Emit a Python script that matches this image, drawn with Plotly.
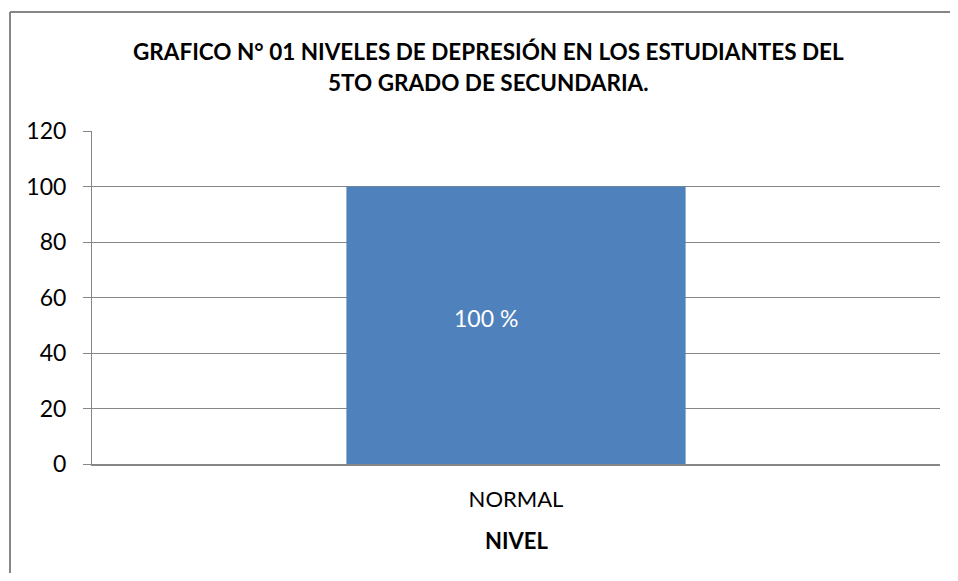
import plotly.graph_objects as go

categories = ["NORMAL"]
values = [100]
bar_labels = ["100 %"]
y_ticks = [0, 20, 40, 60, 80, 100, 120]
title_lines = ["GRAFICO N° 01 NIVELES DE DEPRESIÓN EN LOS ESTUDIANTES DEL",
               "5TO GRADO DE SECUNDARIA."]
x_title = "NIVEL"

W, H = 958, 581
OFF = 8  # default page body margin
L, R, T, B = 92, 940, 131, 464
GRAY = "#868686"
FONT = "Lato"


def px_x(x):
    return (x - L) / (R - L)


def px_y(y):
    return (B - y) / (B - T)


fig = go.Figure()
fig.add_trace(go.Bar(
    x=categories, y=values, width=0.4,
    marker=dict(color="#4F81BD", line=dict(width=0)),
    hoverinfo="skip",
))

annotations = []
for cat, v, lab in zip(categories, values, bar_labels):
    annotations.append(dict(
        x=cat, y=v / 2, xref="x", yref="y", text=lab, showarrow=False,
        xshift=-30, yshift=7, font=dict(family=FONT, size=23, color="white"),
    ))

for i, line in enumerate(title_lines):
    annotations.append(dict(
        x=px_x(488), y=px_y(51 + 32 * i), xref="paper", yref="paper",
        text="<b>%s</b>" % line, showarrow=False, xanchor="center", yanchor="middle",
        font=dict(family=FONT, size=22.5, color="black"),
    ))

annotations.append(dict(
    x=px_x(516), y=px_y(540), xref="paper", yref="paper",
    text="<b>%s</b>" % x_title, showarrow=False, xanchor="center", yanchor="middle",
    font=dict(family=FONT, size=22, color="black"),
))

border = dict(color=GRAY, width=2)
fig.update_layout(
    width=W - OFF, height=H - 2 * OFF,
    margin=dict(l=L - OFF, r=W - R, t=T - OFF, b=H - B - OFF, pad=0),
    paper_bgcolor="white", plot_bgcolor="white",
    showlegend=False,
    annotations=annotations,
    shapes=[
        dict(type="line", xref="paper", yref="paper",
             x0=px_x(10), x1=px_x(W), y0=px_y(12), y1=px_y(12), line=border, layer="below"),
        dict(type="line", xref="paper", yref="paper",
             x0=px_x(10), x1=px_x(10), y0=px_y(12), y1=px_y(H), line=border, layer="below"),
    ],
)

fig.update_yaxes(
    range=[0, 120], tickvals=y_ticks, showgrid=True, gridcolor=GRAY, gridwidth=1,
    showline=True, linecolor=GRAY, linewidth=1, zeroline=False,
    ticks="outside", ticklen=8, tickcolor=GRAY, tickwidth=1,
    ticklabelstandoff=12,
    tickfont=dict(family=FONT, size=23, color="black"),
)
fig.update_xaxes(
    showline=True, linecolor=GRAY, linewidth=2, ticks="",
    ticklabelstandoff=15,
    tickfont=dict(family=FONT, size=22, color="black"),
)

fig.write_html("out.html")
